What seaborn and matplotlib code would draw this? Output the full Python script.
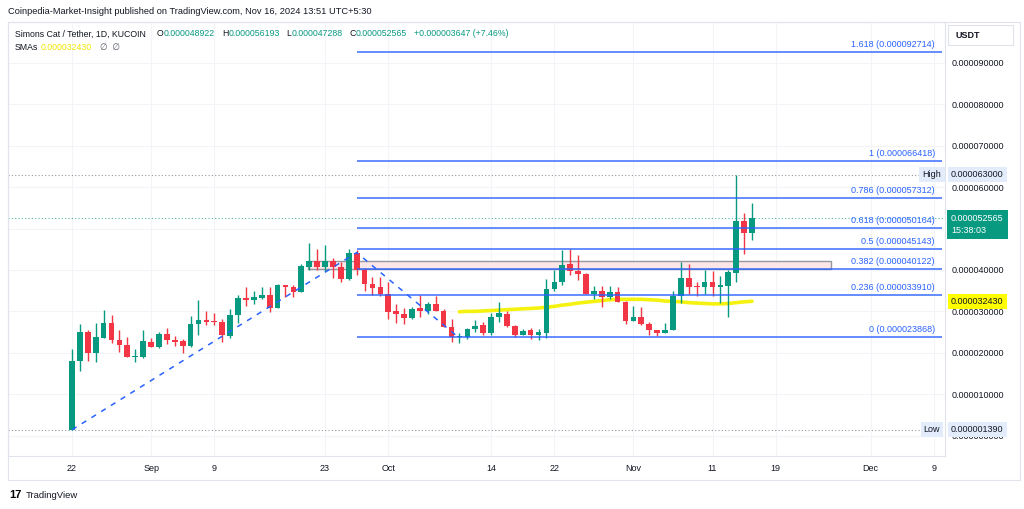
import numpy as np
import pandas as pd
import matplotlib
matplotlib.use("Agg")
import matplotlib.pyplot as plt
import matplotlib.dates as mdates
import matplotlib.transforms as mtransforms
from matplotlib.patches import Rectangle
import seaborn as sns

# ---------------- data (prices in units of 1e-5 USDT) ----------------
SCALE = 1e-5
start_date = "2024-08-22"
opens = [0.14, 1.79, 2.49, 1.99, 2.36, 2.72, 2.31, 2.19, 1.90, 1.90,
         2.27, 2.13, 2.46, 2.31, 2.28, 2.17, 2.69, 2.78, 2.76, 2.75,
         2.41, 2.91, 3.33, 3.27, 3.33, 3.39, 3.09, 3.63, 3.59, 3.47,
         4.08, 4.22, 4.08, 4.22, 4.08, 3.78, 4.40, 3.99, 3.67, 3.58,
         3.42, 3.01, 2.93, 2.85, 3.07, 3.01, 3.18, 3.01, 2.63, 2.38,
         2.39, 2.57, 2.66, 2.47, 2.87, 2.93, 2.64, 2.43, 2.55, 2.43,
         2.48, 3.55, 3.70, 4.14, 3.98, 3.89, 3.43, 3.49, 3.34, 3.47,
         3.22, 2.77, 2.87, 2.70, 2.54, 2.48, 2.56, 3.38, 3.80, 3.60,
         3.59, 3.70, 3.58, 3.62, 3.92, 5.18, 4.8922]
highs = [2.09, 2.69, 2.55, 2.71, 3.03, 2.92, 2.55, 2.39, 2.09, 2.55,
         2.36, 2.50, 2.60, 2.40, 2.32, 2.89, 3.27, 3.00, 2.95, 2.81,
         3.06, 3.39, 3.59, 3.50, 3.58, 3.58, 3.65, 3.64, 3.64, 4.14,
         4.64, 4.50, 4.60, 4.28, 4.18, 4.50, 4.48, 4.04, 3.84, 3.84,
         3.70, 3.17, 3.07, 3.11, 3.39, 3.23, 3.37, 3.05, 2.81, 2.47,
         2.59, 2.79, 2.75, 2.95, 3.22, 3.01, 2.66, 2.57, 2.60, 2.57,
         3.77, 4.00, 4.48, 4.50, 4.36, 3.92, 3.62, 3.62, 3.61, 3.59,
         3.25, 3.14, 3.11, 2.75, 2.56, 2.72, 3.49, 4.20, 4.14, 3.71,
         3.99, 3.97, 3.85, 4.00, 6.30, 5.37, 5.6193]
lows = [0.139, 1.55, 1.80, 1.78, 2.35, 2.23, 2.02, 1.90, 1.77, 1.88,
        2.13, 2.12, 2.21, 2.16, 2.00, 2.13, 2.42, 2.68, 2.68, 2.25,
        2.35, 2.73, 3.14, 3.18, 3.31, 2.99, 3.07, 3.35, 3.35, 3.46,
        4.00, 4.00, 3.97, 3.81, 3.70, 3.75, 3.88, 3.50, 3.39, 3.38,
        2.81, 2.71, 2.69, 2.81, 2.87, 2.93, 3.00, 2.61, 2.27, 2.23,
        2.32, 2.51, 2.44, 2.43, 2.75, 2.61, 2.39, 2.42, 2.32, 2.31,
        2.36, 3.50, 3.64, 3.88, 3.76, 3.41, 3.31, 3.11, 3.31, 3.22,
        2.69, 2.76, 2.67, 2.43, 2.41, 2.48, 2.56, 3.21, 3.41, 3.38,
        3.43, 3.38, 3.19, 2.87, 3.71, 4.38, 4.7288]
closes = [1.81, 2.49, 1.99, 2.37, 2.72, 2.31, 2.19, 1.90, 1.93, 2.28,
          2.13, 2.46, 2.31, 2.27, 2.17, 2.70, 2.78, 2.75, 2.75, 2.42,
          2.91, 3.33, 3.27, 3.35, 3.39, 3.09, 3.64, 3.58, 3.47, 4.09,
          4.22, 4.08, 4.22, 4.08, 3.78, 4.40, 3.99, 3.67, 3.57, 3.42,
          2.99, 2.93, 2.85, 3.06, 3.01, 3.18, 3.01, 2.63, 2.39, 2.40,
          2.57, 2.65, 2.47, 2.87, 2.95, 2.64, 2.43, 2.53, 2.43, 2.51,
          3.55, 3.70, 4.12, 3.98, 3.89, 3.43, 3.49, 3.34, 3.47, 3.22,
          2.77, 2.87, 2.69, 2.56, 2.48, 2.56, 3.38, 3.80, 3.59, 3.59,
          3.70, 3.59, 3.64, 3.96, 5.18, 4.89, 5.2565]

sma_start = "2024-10-10"
sma_values = [2.99, 3.00, 3.00, 3.01, 3.02, 3.03, 3.04, 3.05, 3.06, 3.07,
              3.08, 3.10, 3.12, 3.15, 3.17, 3.20, 3.22, 3.24, 3.26, 3.28,
              3.29, 3.29, 3.29, 3.29, 3.28, 3.27, 3.25, 3.24, 3.23, 3.21,
              3.20, 3.19, 3.18, 3.18, 3.19, 3.21, 3.23, 3.243]

trend_dates = ["2024-08-22", "2024-09-27", "2024-10-10"]
trend_values = [0.139, 4.42, 2.35]

fib_ratios = ["0", "0.236", "0.382", "0.5", "0.618", "0.786", "1", "1.618"]
fib_prices = ["0.000023868", "0.000033910", "0.000040122", "0.000045143",
              "0.000050164", "0.000057312", "0.000066418", "0.000092714"]
fib_start, fib_end = "2024-09-27", "2024-12-10"

zone_start, zone_end = "2024-09-20 19:00", "2024-11-26"
zone_low, zone_high = 4.0122, 4.22

high_price = "0.000063000"
low_price = "0.000001390"
last_price = "0.000052565"
sma_last = "0.000032430"
ohlc_labels = ["O", "H", "L", "C"]
ohlc_values = ["0.000048922", "0.000056193", "0.000047288", "0.000052565"]
change_text = "+0.000003647 (+7.46%)"

xtick_dates = ["2024-08-22", "2024-09-01", "2024-09-09", "2024-09-23", "2024-10-01",
               "2024-10-14", "2024-10-22", "2024-11-01", "2024-11-11", "2024-11-19",
               "2024-12-01", "2024-12-09"]
xtick_labels = ["22", "Sep", "9", "23", "Oct", "14", "22", "Nov", "11", "19", "Dec", "9"]
ytick_values = [0, 1, 2, 3, 4, 5, 6, 7, 8, 9]
hidden_ytick = 5  # covered by the last-price tag in the reference

# ---------------- style ----------------
sns.set_theme(style="white")
plt.rcParams["font.family"] = ["Liberation Sans", "DejaVu Sans"]
TXT = "#131722"
UP, DOWN = "#089981", "#f23645"
BLUE = "#2962ff"
FS = 6.5
LFS = 6.3

W, H = 1024, 509
fig = plt.figure(figsize=(W / 100, H / 100), dpi=100)
ax = fig.add_axes([8 / W, 1 - 456 / H, 937 / W, 434 / H])

def fx(px):
    return px / W

def fy(py):
    return 1 - py / H

df = pd.DataFrame({
    "date": pd.date_range(start_date, periods=len(opens), freq="D"),
    "open": np.array(opens) * SCALE,
    "high": np.array(highs) * SCALE,
    "low": np.array(lows) * SCALE,
    "close": np.array(closes) * SCALE,
})
up = df["close"] >= df["open"]
cols = np.where(up, UP, DOWN)

# zone rectangle
zs, ze = mdates.date2num(pd.Timestamp(zone_start)), mdates.date2num(pd.Timestamp(zone_end))
ax.add_patch(Rectangle((zs, zone_low * SCALE), ze - zs, (zone_high - zone_low) * SCALE,
                       facecolor="#fde6e8", edgecolor="#9598a1", lw=1.0, zorder=1))

# SMA line (seaborn)
sma_df = pd.DataFrame({"date": pd.date_range(sma_start, periods=len(sma_values), freq="D"),
                       "sma": np.array(sma_values) * SCALE})
sns.lineplot(data=sma_df, x="date", y="sma", ax=ax, color="#f5f20f", lw=2.6, zorder=2)

# candles
ax.vlines(df["date"], df["low"], df["high"], colors=cols, lw=1.0, zorder=3)
body_bottom = np.minimum(df["open"], df["close"])
body_h = np.maximum((df["close"] - df["open"]).abs(), 0.025 * SCALE)
ax.bar(df["date"], body_h, bottom=body_bottom, width=0.72, color=cols, lw=0, zorder=4)

# trend dashed line (seaborn)
tr_df = pd.DataFrame({"date": pd.to_datetime(trend_dates), "v": np.array(trend_values) * SCALE})
sns.lineplot(data=tr_df, x="date", y="v", ax=ax, color=BLUE, lw=1.1, zorder=5)
ax.lines[-1].set_linestyle((0, (3.5, 4)))

# fib levels
fs_, fe_ = pd.Timestamp(fib_start), pd.Timestamp(fib_end)
lab_off = mtransforms.ScaledTranslation(-7 / 100, 3 / 100, fig.dpi_scale_trans)
for r, p in zip(fib_ratios, fib_prices):
    val = float(p)
    ax.hlines(val, fs_, fe_, color=BLUE, lw=1.2, alpha=0.85, zorder=5)
    ax.text(fe_, val, f"{r} ({p})", ha="right", va="bottom", fontsize=FS,
            color=BLUE, transform=ax.transData + lab_off, zorder=6)

# dotted price lines
ax.axhline(float(high_price), color="#9598a1", lw=0.8, ls=(0, (1, 2)), zorder=2)
ax.axhline(float(low_price), color="#9598a1", lw=0.8, ls=(0, (1, 2)), zorder=2)
ax.axhline(float(last_price), color=UP, lw=0.8, ls=(0, (1, 2)), alpha=0.7, zorder=2)

# axes limits & ticks
base = pd.Timestamp(start_date)
ax.set_xlim(base - pd.Timedelta(days=8.09), base + pd.Timedelta(days=110.4))
ax.set_ylim(-0.495 * SCALE, 9.99 * SCALE)
ax.set_xticks(pd.to_datetime(xtick_dates))
ax.set_xticklabels(xtick_labels)
ax.yaxis.tick_right()
ax.set_yticks([v * SCALE for v in ytick_values])
ax.set_yticklabels(["" if v == hidden_ytick else f"{v * SCALE:.9f}" for v in ytick_values])
ax.tick_params(axis="x", length=0, pad=6, labelsize=FS, colors=TXT)
ax.tick_params(axis="y", length=0, pad=4.5, labelsize=FS, colors=TXT)
ax.set_xlabel("")
ax.set_ylabel("")
ax.grid(True, color="#f2f4f8", lw=0.8)
ax.set_axisbelow(True)
for s in ax.spines.values():
    s.set_color("#e0e3eb")
    s.set_linewidth(0.8)

# right-side price tags
bt = mtransforms.blended_transform_factory(ax.transAxes, ax.transData)
tx = (951 - 8) / 937
hx = (932 - 8) / 937
def tag(y, s, fc, tc=TXT):
    ax.text(tx, y, s, transform=bt, ha="left", va="center", fontsize=FS, color=tc,
            clip_on=False, zorder=10,
            bbox=dict(boxstyle="square,pad=0.35", fc=fc, ec="none"))

tag(float(high_price), high_price, "#e3ecfb")
ax.text(hx, float(high_price), "High", transform=bt, ha="center", va="center", fontsize=FS,
        color=TXT, zorder=10, clip_on=False, bbox=dict(boxstyle="square,pad=0.35", fc="#e3ecfb", ec="none"))
tag(float(low_price), low_price, "#e3ecfb")
ax.text(hx, float(low_price), "Low", transform=bt, ha="center", va="center", fontsize=FS,
        color=TXT, zorder=10, clip_on=False, bbox=dict(boxstyle="square,pad=0.35", fc="#e3ecfb", ec="none"))
tag(float(sma_last), sma_last, "#ffff00", tc="#131722")
green_off = mtransforms.ScaledTranslation(0, -6.5 / 100, fig.dpi_scale_trans)
ax.text(tx, float(last_price), f"{last_price}\n15:38:03", transform=bt + green_off,
        ha="left", va="center", fontsize=FS, color="white", linespacing=1.35,
        clip_on=False, zorder=10, bbox=dict(boxstyle="square,pad=0.45", fc=UP, ec="none"))

# USDT box
fig.add_artist(Rectangle((fx(948), fy(45)), 65 / W, 20 / H, transform=fig.transFigure,
                         fc="white", ec="#e0e3eb", lw=0.8))
fig.text(fx(955), fy(35), "USDT", fontsize=FS, color=TXT, va="center", ha="left", weight="semibold")

# outer frame
fig.add_artist(Rectangle((fx(8), fy(480)), 1012 / W, 458 / H, transform=fig.transFigure,
                         fill=False, ec="#e0e3eb", lw=0.8))

# header texts
fig.text(fx(8), fy(12), "Coinpedia-Market-Insight published on TradingView.com, Nov 16, 2024 13:51 UTC+5:30",
         fontsize=6.65, color=TXT, va="center")
fig.text(fx(14.7), fy(34), "Simons Cat / Tether, 1D, KUCOIN", fontsize=LFS, color=TXT, va="center")

renderer = fig.canvas.get_renderer()
def run_text(x, y, s, c):
    t = fig.text(fx(x), fy(y), s, fontsize=LFS, color=c, va="center")
    return x + t.get_window_extent(renderer).width

cx = 157
for lab, val in zip(ohlc_labels, ohlc_values):
    cx = run_text(cx, 34, lab, TXT)
    cx = run_text(cx, 34, val, UP) + 7
run_text(cx, 34, change_text, UP)

fig.text(fx(14.7), fy(47), "SMAs", fontsize=LFS, color=TXT, va="center")
fig.text(fx(40.7), fy(47), sma_last, fontsize=LFS, color="#f2e600", va="center")
fig.text(fx(100), fy(47), "\u2205  \u2205", fontsize=LFS, color="#555a66", va="center")

# footer logo
fig.text(fx(9), fy(495), "17", fontsize=8, color="black", weight="heavy", va="center")
fig.text(fx(26), fy(495), "TradingView", fontsize=FS + 0.3, color=TXT, va="center")

fig.savefig("out.png", dpi=100, facecolor="white")
